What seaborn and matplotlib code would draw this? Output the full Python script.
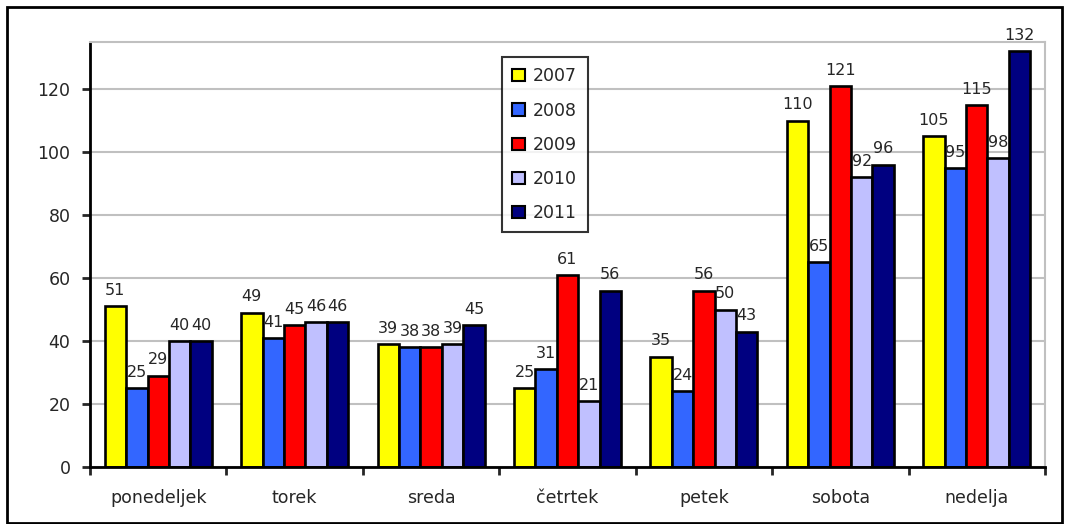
import matplotlib
matplotlib.use("Agg")
import matplotlib.pyplot as plt
import matplotlib.patches as mpatches
import seaborn as sns
import pandas as pd
import numpy as np

days = ["ponedeljek", "torek", "sreda", "četrtek", "petek", "sobota", "nedelja"]
years = ["2007", "2008", "2009", "2010", "2011"]
v2007 = [51, 49, 39, 25, 35, 110, 105]
v2008 = [25, 41, 38, 31, 24, 65, 95]
v2009 = [29, 45, 38, 61, 56, 121, 115]
v2010 = [40, 46, 39, 21, 50, 92, 98]
v2011 = [40, 46, 45, 56, 43, 96, 132]
colors = ["#FFFF00", "#3366FF", "#FF0000", "#C0C0FF", "#000080"]

series = [v2007, v2008, v2009, v2010, v2011]
df = pd.DataFrame({
    "day": [d for s in series for d in days],
    "year": [y for y, s in zip(years, series) for _ in s],
    "value": [v for s in series for v in s],
})

sns.set_style("white")
plt.rcParams['font.family'] = ['DejaVu Sans']

fig = plt.figure(figsize=(10.7, 5.24), dpi=100)
ax = fig.add_axes([90/1070, 1-467/524, (1045-90)/1070, (467-42)/524])

sns.barplot(data=df, x="day", y="value", hue="year", order=days, hue_order=years,
            palette=colors, width=0.785, gap=0, edgecolor="black", linewidth=1.9,
            saturation=1, legend=False, ax=ax, errorbar=None)

for cont in ax.containers:
    ax.bar_label(cont, fmt="%d", padding=6, fontsize=11.5)

ax.set_ylim(0, 135)
ax.set_xlim(-0.5, 6.5)
ax.set_yticks(range(0, 121, 20))
ax.yaxis.grid(True, color="#C0C0C0", linewidth=1.5)
ax.set_axisbelow(True)
ax.set_xlabel("")
ax.set_ylabel("")
for s in ["left", "bottom"]:
    ax.spines[s].set_color("black")
    ax.spines[s].set_linewidth(2)
for s in ["top", "right"]:
    ax.spines[s].set_color("#C0C0C0")
    ax.spines[s].set_linewidth(1.5)

ax.tick_params(axis="y", which="major", direction="out", length=6, width=2, labelsize=12.5, pad=8, left=True)
ax.tick_params(axis="x", which="major", length=0, labelsize=12.5, pad=16)
ax.set_xticks(np.arange(-0.5, 7, 1), minor=True)
ax.tick_params(axis="x", which="minor", direction="out", length=6, width=2, bottom=True)

handles = [mpatches.Patch(facecolor=c, edgecolor="black", linewidth=1.5, label=y) for c, y in zip(colors, years)]
leg = fig.legend(handles=handles, loc="upper left", bbox_to_anchor=(502/1070, 1-57/524),
                 fontsize=12.5, frameon=True, fancybox=False, handlelength=0.7, handleheight=0.7,
                 handletextpad=0.5, labelspacing=0.93, borderpad=0.6, borderaxespad=0)
leg.get_frame().set_edgecolor("black")
leg.get_frame().set_linewidth(1.5)

border = mpatches.Rectangle((7/1070, 1/524), 1055/1070, 516/524, transform=fig.transFigure,
                            fill=False, edgecolor="black", linewidth=2)
fig.patches.append(border)

fig.savefig("out.png", dpi=100)
